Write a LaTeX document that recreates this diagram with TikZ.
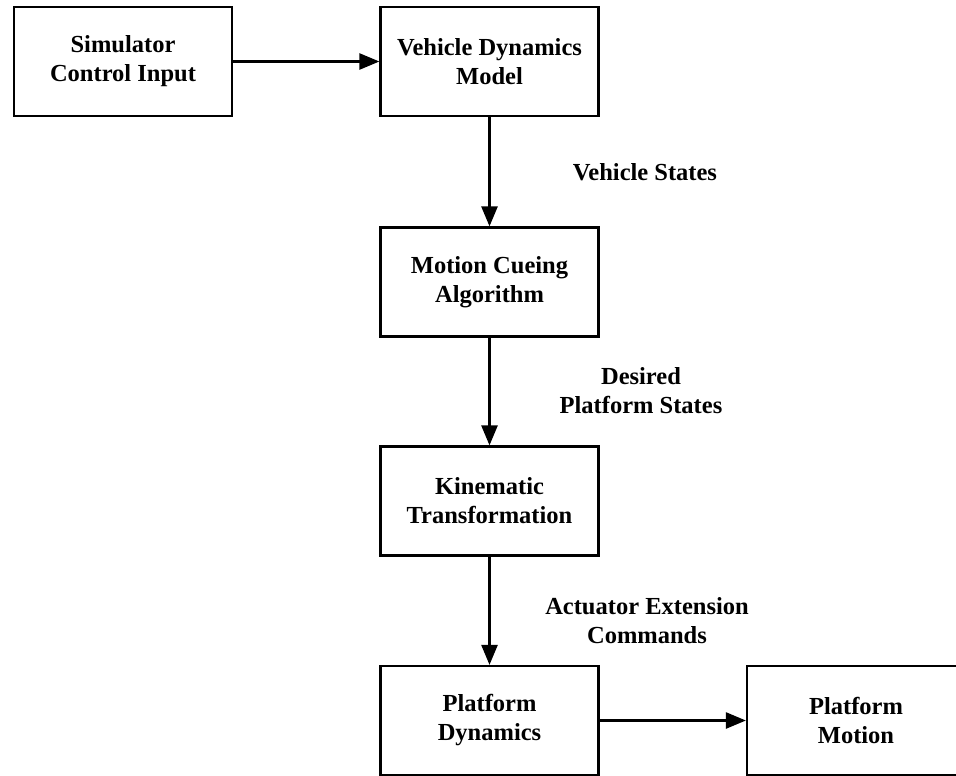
\documentclass[tikz,border=0pt]{standalone}
\usepackage{fontspec}
\setmainfont{Liberation Serif}
\usetikzlibrary{arrows.meta}

\begin{document}
\begin{tikzpicture}[x=1pt, y=-1pt,
  font=\bfseries\fontsize{24.5}{29}\selectfont,
  block/.style={minimum height=109, minimum width=218, draw, line width=2.2pt, align=center, inner sep=0pt},
  flow/.style={-{Triangle[length=20pt, width=16pt]}, line width=2.5pt}]
\useasboundingbox (0, 0) rectangle (956, 776);
\clip (0, 0) rectangle (956, 776);

\node[block] (control box) at (123, 61.5) {Simulator\\Control Input};
\node[block] (vehicle box) at (489.5, 61.5) {Vehicle Dynamics\\Model};
\node[block] (cueing box) at (489.5, 282) {Motion Cueing\\Algorithm};
\node[block] (kinematic box) at (489.5, 501) {Kinematic\\Transformation};
\node[block] (platform box) at (489.5, 720.5) {Platform\\Dynamics};
\node[block] (motion box) at (856, 720.5) {Platform\\Motion};

\node[align=center] (vehicle states) at (645, 172) {Vehicle States};
\node[align=center] (desired states) at (641, 391) {Desired\\Platform States};
\node[align=center] (actuator commands) at (647, 621) {Actuator Extension\\Commands};

\draw[flow] (control box) -- (vehicle box) {};
\draw[flow] (vehicle box) -- (cueing box) {};
\draw[flow] (cueing box) -- (kinematic box) {};
\draw[flow] (kinematic box) -- (platform box) {};
\draw[flow] (platform box) -- (motion box) {};
\end{tikzpicture}
\end{document}
